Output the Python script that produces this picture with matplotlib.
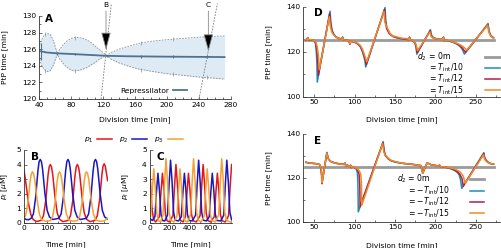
import numpy as np
import matplotlib
matplotlib.use('Agg')
import matplotlib.pyplot as plt
from matplotlib.ticker import MultipleLocator, FixedLocator
from matplotlib.lines import Line2D

plt.rcParams['font.family'] = 'DejaVu Sans'
plt.rcParams['font.size'] = 5.4
plt.rcParams['mathtext.fontset'] = 'dejavusans'

# ---------------- panel A : PtP time vs division time (repressilator)
band_x = [41, 43, 46, 50, 54, 58, 61, 63, 66, 70, 75, 80, 85, 90, 95, 100, 105, 110, 115, 120, 125,
          130, 140, 150, 165, 180, 200, 220, 240, 260, 272]
band_hi = [126.5, 127.1, 127.6, 127.9, 127.8, 127.0, 126.1, 125.5, 126.0, 126.5, 127.0, 127.3, 127.4,
           127.4, 127.3, 127.1, 126.8, 126.4, 126.0, 125.6, 125.25,
           125.6, 126.0, 126.3, 126.7, 126.95, 127.15, 127.3, 127.45, 127.55, 127.6]
band_lo = [124.8, 124.1, 123.6, 123.3, 123.4, 124.1, 124.9, 125.4, 124.8, 124.3, 123.8, 123.5, 123.4,
           123.45, 123.6, 123.8, 124.1, 124.4, 124.75, 125.05, 125.2,
           124.8, 124.35, 124.0, 123.6, 123.35, 123.05, 122.85, 122.65, 122.5, 122.4]
mean_x = [42, 50, 63, 85, 105, 125, 150, 200, 250, 272]
mean_y = [125.75, 125.6, 125.5, 125.4, 125.3, 125.2, 125.15, 125.1, 125.07, 125.05]
pts_x = [42, 63, 85, 125, 167, 208, 250]
pts_y = [125.72, 125.5, 125.4, 125.2, 125.13, 125.1, 125.07]
pts_err = [1.0, 0.15, 0.15, 0.15, 0.15, 0.15, 0.15]
edge_x = [48, 85, 167, 208, 250]
edge_hi = [127.8, 127.4, 126.75, 127.2, 127.5]
edge_lo = [123.35, 123.4, 123.55, 123.05, 122.6]
arrow_x = [123.75, 251.7]
arrow_tip = [125.9, 125.7]
arrow_lab = ['B', 'C']
guide_B = ([117.5, 130.4], [120, 131.5])
guide_C = ([240, 263], [120, 131.5])

# ---------------- panels B and C : protein concentrations
b_red = [(0, 3.6), (5, 3.1), (10, 2.5), (15, 1.9), (20, 1.3), (30, 0.55), (40, 0.22), (55, 0.08),
         (75, 0.16), (85, 0.48), (95, 1.52), (100, 2.4), (105, 3.28), (110, 3.84), (115, 4.0),
         (120, 3.84), (125, 3.36), (130, 2.6), (135, 1.8), (145, 0.68), (155, 0.24), (170, 0.07),
         (193, 0.16), (203, 0.48), (213, 1.52), (218, 2.4), (223, 3.28), (228, 3.84), (233, 4.0),
         (238, 3.84), (243, 3.36), (248, 2.6), (253, 1.8), (263, 0.68), (273, 0.24), (288, 0.07),
         (310, 0.16), (320, 0.48), (330, 1.55), (335, 2.4), (340, 3.3), (345, 3.88), (350, 4.05),
         (355, 3.88), (360, 3.4), (365, 2.9)]
b_blue = [(0, 0.3), (10, 0.22), (20, 0.2), (31, 0.3), (41, 0.6), (51, 1.75), (56, 2.7), (61, 3.6),
          (66, 4.2), (71, 4.35), (76, 4.2), (81, 3.7), (86, 2.9), (91, 2.05), (101, 0.85), (111, 0.4),
          (125, 0.22), (152, 0.3), (162, 0.6), (172, 1.75), (177, 2.7), (182, 3.6), (187, 4.2),
          (192, 4.35), (197, 4.2), (202, 3.7), (207, 2.9), (212, 2.05), (222, 0.85), (232, 0.4),
          (246, 0.22), (272, 0.3), (282, 0.6), (292, 1.75), (297, 2.7), (302, 3.6), (307, 4.2),
          (312, 4.35), (317, 4.2), (322, 3.7), (327, 2.9), (332, 2.05), (342, 0.85), (352, 0.4),
          (365, 0.25)]
b_orange = [(0, 0.3), (7, 0.5), (17, 1.35), (22, 2.1), (27, 2.9), (32, 3.35), (37, 3.5), (42, 3.35),
            (47, 2.95), (52, 2.3), (57, 1.6), (67, 0.6), (77, 0.2), (95, 0.1), (115, 0.14),
            (125, 0.42), (135, 1.33), (140, 2.1), (145, 2.87), (150, 3.36), (155, 3.5), (160, 3.36),
            (165, 2.95), (170, 2.3), (175, 1.6), (185, 0.6), (195, 0.2), (213, 0.1), (233, 0.14),
            (243, 0.42), (253, 1.33), (258, 2.1), (263, 2.87), (268, 3.36), (273, 3.5), (278, 3.36),
            (283, 2.95), (288, 2.3), (293, 1.6), (303, 0.6), (313, 0.2), (330, 0.1), (350, 0.12),
            (365, 0.3)]

c_red = [(0, 3.8), (8, 3.0), (15, 2.0), (25, 0.9), (40, 0.25), (60, 0.05), (97, 0.41), (112, 2.04),
         (127, 3.4), (142, 2.21), (157, 0.58), (172, 0.14), (195, 0.05), (230, 0.48), (245, 2.4),
         (260, 4.0), (275, 2.6), (290, 0.68), (305, 0.16), (330, 0.05), (353, 0.41), (368, 2.04),
         (383, 3.4), (398, 2.21), (413, 0.58), (428, 0.14), (460, 0.05), (497, 0.48), (512, 2.4),
         (527, 4.0), (542, 2.6), (557, 0.68), (572, 0.16), (600, 0.05), (637, 0.41), (652, 2.04),
         (667, 3.4), (682, 2.21), (697, 0.58), (712, 0.14), (745, 0.05), (777, 0.48), (792, 2.4),
         (807, 4.0)]
c_blue = [(0, 0.3), (30, 0.15), (53, 0.41), (68, 2.04), (83, 3.4), (98, 2.21), (113, 0.58),
          (128, 0.15), (150, 0.12), (177, 0.52), (192, 2.58), (207, 4.3), (222, 2.8), (237, 0.73),
          (252, 0.17), (285, 0.12), (313, 0.41), (328, 2.04), (343, 3.4), (358, 2.21), (373, 0.58),
          (388, 0.15), (420, 0.12), (453, 0.52), (468, 2.58), (483, 4.3), (498, 2.8), (513, 0.73),
          (528, 0.17), (560, 0.12), (587, 0.41), (602, 2.04), (617, 3.4), (632, 2.21), (647, 0.58),
          (662, 0.15), (700, 0.12), (730, 0.52), (745, 2.58), (760, 4.3), (775, 2.8), (790, 0.73),
          (807, 0.2)]
c_orange = [(0, 0.35), (12, 0.45), (27, 2.2), (42, 3.7), (57, 2.4), (72, 0.63), (87, 0.15),
            (110, 0.05), (132, 0.53), (147, 2.64), (162, 4.4), (177, 2.86), (192, 0.75), (207, 0.18),
            (240, 0.05), (270, 0.45), (285, 2.2), (300, 3.7), (315, 2.4), (330, 0.63), (345, 0.15),
            (375, 0.05), (403, 0.53), (418, 2.64), (433, 4.4), (448, 2.86), (463, 0.75), (478, 0.18),
            (510, 0.05), (537, 0.45), (552, 2.2), (567, 3.7), (582, 2.4), (597, 0.63), (612, 0.15),
            (645, 0.05), (680, 0.53), (695, 2.64), (710, 4.4), (725, 2.86), (740, 0.75), (755, 0.18),
            (790, 0.05), (807, 0.05)]
c_ticks = [0, 200, 400, 600]

# ---------------- panels D and E : PtP time for different d2
d_zero = [(39, 125.1), (272, 125.1)]
d_teal = [(39, 125.3), (41, 125.5), (42, 126.3), (43, 125.2), (46, 125.3), (50, 124.9), (51.5, 123.5),
          (52.5, 120), (53.2, 115), (53.7, 106.5), (69.5, 138.0), (70.5, 133), (72, 129.5),
          (74, 127.8), (77, 126.6), (80, 126.0), (84, 125.7), (85, 126.5), (86, 125.4), (90, 125.2),
          (93, 124.8), (94, 123.3), (95, 124.6), (100, 124.2), (104, 123.4), (107, 122.2),
          (109, 120.5), (111, 118.3), (112.7, 116), (113.7, 113.2), (137.6, 139.6), (138.5, 134),
          (140, 130.5), (143, 128.2), (147, 127), (152, 126.3), (158, 125.8), (164, 125.6),
          (167, 125.4), (168, 126.5), (169, 125.3), (172, 124.9), (174.5, 124), (176, 122),
          (177, 118.9), (193.8, 129.8), (195, 127.5), (197, 126.4), (200, 125.9), (205, 125.6),
          (209, 125.5), (210, 126.5), (211, 124.8), (213, 125.1), (218, 124.6), (223, 124),
          (227, 123.3), (230, 122.5), (232.5, 121.5), (234.5, 120.2), (235.9, 118.9),
          (265.2, 132.5), (266.3, 129.5), (267.5, 128), (269, 127), (272, 126.2)]
d_crimson = [(39, 125.3), (41, 125.5), (42, 126.2), (43, 125.2), (46, 125.3), (50, 125), (52, 123.8),
             (53.5, 120), (54.5, 114), (55, 109.5), (69, 137.0), (70.2, 132.5), (71.8, 129.3),
             (74, 127.7), (77, 126.5), (80, 125.9), (84, 125.6), (85, 126.4), (86, 125.3), (90, 125.1),
             (93, 124.8), (94, 123.4), (95, 124.6), (100, 124.3), (104, 123.5), (107, 122.4),
             (109.5, 120.7), (111.5, 118.6), (113.3, 116.3), (114.3, 114.3), (137, 138.8),
             (138, 133.5), (139.7, 130.2), (143, 128), (147, 126.8), (152, 126.2), (158, 125.8),
             (164, 125.5), (167, 125.4), (168, 126.4), (169, 125.3), (172, 124.9), (174.8, 124),
             (176.3, 122), (177.3, 119.6), (193.6, 129.3), (194.8, 127.2), (197, 126.2), (200, 125.8),
             (205, 125.5), (209, 125.5), (210, 126.4), (211, 124.9), (213, 125.1), (218, 124.7),
             (223, 124.1), (227, 123.5), (230, 122.8), (233, 121.8), (235.5, 120.6), (237.3, 119.8),
             (265, 132.1), (266.2, 129.3), (267.5, 127.8), (269, 126.9), (272, 126.1)]
d_orange = [(39, 125.4), (41, 125.5), (42, 126.2), (43, 125.3), (46, 125.4), (50, 125), (52, 124.3),
            (53.5, 122.5), (55, 118.5), (56.2, 112), (68.6, 135.5), (69.8, 131.5), (71.5, 128.8),
            (73.6, 127.6), (77.8, 126.3), (80, 125.9), (84, 125.5), (85, 126.3), (86, 125.3),
            (90, 125.1), (93, 124.9), (94, 123.6), (95, 124.7), (100, 124.4), (104, 123.7),
            (107, 122.8), (109.5, 121.2), (111.5, 119.3), (113.5, 117.2), (114.9, 115.5),
            (136.4, 137.8), (137.5, 133), (139.7, 131.1), (143.8, 128.1), (147, 127), (152.1, 126.6),
            (158, 126), (164.5, 125.8), (167, 125.5), (168, 126.3), (169, 125.3), (172, 125),
            (175, 124.2), (176.6, 122.5), (177.8, 120.5), (193.4, 128.8), (194.6, 126.8), (197, 126.1),
            (200, 125.8), (205, 125.5), (209, 125.5), (210, 126.3), (211, 124.9), (213, 125.2),
            (218, 124.8), (223, 124.2), (227, 123.7), (231, 123), (234, 122.3), (236.8, 121.5),
            (238.8, 120.7), (264.8, 131.8), (266, 129), (267.5, 127.6), (269, 126.8), (272, 126)]

e_zero = [(39, 125.1), (272, 125.1)]
e_teal = [(39.7, 127.2), (42, 126.9), (45, 126.8), (50, 126.6), (55, 126.4), (57, 125.9), (58.2, 124.5),
          (59, 121), (59.3, 117.3), (65.6, 131.6), (67.3, 128.8), (70, 127.6), (74, 127), (80, 126.5),
          (86, 126.2), (88, 126.8), (89, 125.4), (91, 125.9), (93, 125.2), (95, 125.8), (96, 124.6),
          (98, 125.2), (100, 124.6), (102, 124), (103.3, 122.5), (104, 118), (104.5, 104.5),
          (135.3, 136.5), (136.5, 132.5), (138, 130.3), (141.7, 128.6), (145, 127.8), (150, 127.2),
          (155, 126.9), (160, 126.6), (165, 126.4), (170, 126.2), (175, 126), (179, 125.7),
          (182, 125.6), (184.3, 122.2), (186, 123.6), (189.5, 126.7), (192, 126.5), (195, 125.9),
          (200, 125.7), (203, 125.3), (205, 125.8), (207, 124.9), (210, 125), (215, 124.6),
          (220, 124), (224, 123.3), (227, 122.5), (229.5, 121.3), (231.2, 119), (232.6, 115.2),
          (260, 131.5), (261, 129.3), (262.5, 128.2), (265, 127.2), (268, 126.6), (272, 126.3)]
e_crimson = [(39.7, 127.1), (42, 126.8), (45, 126.7), (50, 126.5), (55, 126.3), (57, 125.9),
             (58.4, 124.5), (59.2, 121), (59.5, 117.5), (65.5, 131.3), (67.4, 128.7), (70, 127.5),
             (74, 126.9), (80, 126.4), (86, 126.1), (88, 126.7), (89, 125.4), (91, 125.8), (93, 125.2),
             (95, 125.7), (96, 124.7), (98, 125.1), (100, 124.6), (102, 124.2), (104, 123.3),
             (105.5, 121.5), (106.3, 117), (106.7, 106.8), (135, 136), (136.4, 132.3), (138, 130.2),
             (141.7, 128.7), (145, 127.9), (150, 127.3), (155, 126.9), (160, 126.6), (165, 126.4),
             (170, 126.2), (175, 126), (179, 125.7), (182, 125.6), (184.3, 122.1), (186, 123.6),
             (189.5, 126.7), (192, 126.5), (195, 125.9), (200, 125.7), (203, 125.3), (205, 125.8),
             (207, 124.9), (210, 125), (215, 124.7), (220, 124.2), (224, 123.6), (227.5, 122.8),
             (230.5, 121.5), (233, 119.6), (234.5, 116.2), (259.8, 131), (261, 129), (262.5, 128),
             (265, 127.1), (268, 126.5), (272, 126.2)]
e_orange = [(39.7, 127.0), (42, 126.8), (45, 126.7), (50, 126.5), (55, 126.3), (57, 125.9),
            (58.5, 124.5), (59.3, 121), (59.6, 117.7), (65.4, 131.2), (67.5, 128.6), (70, 127.5),
            (74, 126.9), (80, 126.4), (86, 126.1), (88, 126.7), (89, 125.4), (91, 125.8), (93, 125.2),
            (95, 125.7), (96, 124.8), (98, 125.1), (100, 124.7), (102, 124.4), (104, 123.9),
            (106, 123), (107.5, 121.5), (108.4, 117.5), (108.8, 107.5), (134.6, 135.6), (136, 132),
            (137.6, 130.5), (141.7, 128.9), (145, 128), (150, 127.4), (155, 127), (160, 126.6),
            (165, 126.4), (170, 126.2), (175, 126), (179, 125.7), (182, 125.6), (184.3, 122),
            (186, 123.6), (189.5, 126.7), (192, 126.5), (195, 125.9), (200, 125.7), (203, 125.3),
            (205, 125.8), (207, 124.9), (210, 125.1), (215, 124.8), (220, 124.4), (224, 124),
            (228, 123.3), (231.5, 122.3), (234.5, 120.8), (236.8, 117.5), (259.5, 130.5), (261, 128.5),
            (262.5, 127.7), (265, 126.9), (268, 126.5), (272, 126.3)]

legend_D = ['= $T_{\\rm int}$/10', '= $T_{\\rm int}$/12', '= $T_{\\rm int}$/15']
legend_E = ['= \u2212$T_{\\rm int}$/10', '= \u2212$T_{\\rm int}$/12', '= \u2212$T_{\\rm int}$/15']

RED, BLUE, ORANGE = '#e3161c', '#1717c4', '#f5a031'
GRAY, TEAL, CRIMSON, ORG2 = '#9b9b9b', '#1f8db0', '#b31a4e', '#f08a24'
FS = 5.4
FLEG = 5.6
FL = 7.5

W, H = 501, 248
fig = plt.figure(figsize=(W / 100, H / 100), dpi=100)


def box(l, t, r, b):
    return fig.add_axes([l / W, 1 - b / H, (r - l) / W, (b - t) / H])


def style(ax):
    for s in ['top', 'right']:
        ax.spines[s].set_visible(False)
    for s in ['left', 'bottom']:
        ax.spines[s].set_linewidth(0.6)
        ax.spines[s].set_color('#333333')
    ax.tick_params(which='major', direction='in', length=2.5, width=0.5, labelsize=FS, pad=2,
                   color='#333333')
    ax.tick_params(which='minor', direction='in', length=1.5, width=0.5, color='#333333')


def xy(pts):
    a = np.array(pts, dtype=float)
    return a[:, 0], a[:, 1]


# ---- A
axA = box(39, 16, 231, 99)
style(axA)
axA.fill_between(band_x, band_lo, band_hi, color='#deebf5', lw=0)
axA.plot(band_x, band_hi, color='#858f97', lw=0.6, ls=(0, (2, 1.5)))
axA.plot(band_x, band_lo, color='#858f97', lw=0.6, ls=(0, (2, 1.5)))
axA.plot(edge_x, edge_hi, ls='none', marker='|', ms=3, mew=0.5, color='#858f97')
axA.plot(edge_x, edge_lo, ls='none', marker='|', ms=3, mew=0.5, color='#858f97')
ln, = axA.plot(mean_x, mean_y, color='#4e7390', lw=1.3)
axA.errorbar(pts_x, pts_y, yerr=pts_err, fmt='none', ecolor='#4e7390', elinewidth=0.8, capsize=0)
for gx, gy in [guide_B, guide_C]:
    axA.plot(gx, gy, color='#7a7a7a', lw=0.6, ls=(0, (2, 1.5)), clip_on=False)
for xa, yt, lab in zip(arrow_x, arrow_tip, arrow_lab):
    axA.annotate('', xy=(xa, yt), xytext=(xa, 130.6),
                 arrowprops=dict(arrowstyle='-|>,head_length=1.1,head_width=0.3', mutation_scale=10,
                                 fc='black', ec='#8a8a8a', lw=0.6, shrinkA=0, shrinkB=0))
    axA.text(xa, 131.35, lab, ha='center', va='center', fontsize=FS)
axA.set_xlim(40, 280)
axA.set_ylim(120, 130)
axA.xaxis.set_major_locator(MultipleLocator(40))
axA.xaxis.set_minor_locator(MultipleLocator(10))
axA.yaxis.set_major_locator(MultipleLocator(2))
axA.yaxis.set_minor_locator(MultipleLocator(1))
axA.set_xlabel('Division time [min]', fontsize=FS)
axA.set_ylabel('PtP time [min]', fontsize=FS)
axA.xaxis.set_label_coords(0.5, -0.21)
axA.yaxis.set_label_coords(-0.16, 0.5)
axA.text(0.03, 0.96, 'A', transform=axA.transAxes, fontsize=FL, fontweight='bold', va='center')
axA.legend([ln], ['Repressilator'], loc='center right', bbox_to_anchor=(0.79, 0.1), frameon=False,
           markerfirst=False, handlelength=1.8, fontsize=FS, borderpad=0, handletextpad=0.6)

# ---- B and C
handles = []
for ax, curves, xmax, ticks, label, lx, ylx in [
        (box(24, 150, 107.6, 222.7), (b_red, b_blue, b_orange), 365, [0, 100, 200, 300], 'B', 0.084, -0.17),
        (box(149.5, 150, 231.9, 222.7), (c_red, c_blue, c_orange), 810, c_ticks, 'C', 0.087, -0.22)]:
    style(ax)
    handles = []
    for pts, col in zip(curves, (RED, BLUE, ORANGE)):
        x, y = xy(pts)
        h, = ax.plot(x, y, color=col, lw=1.1)
        handles.append(h)
    ax.set_xlim(0, xmax)
    ax.set_ylim(0, 5)
    ax.xaxis.set_major_locator(FixedLocator(ticks))
    ax.xaxis.set_minor_locator(MultipleLocator((ticks[1] - ticks[0]) / 2))
    ax.yaxis.set_major_locator(MultipleLocator(1))
    ax.set_xlabel('Time [min]', fontsize=FS)
    ax.set_ylabel('$p_i$ [$\\mu$M]', fontsize=FS)
    ax.xaxis.set_label_coords(0.5, -0.26)
    ax.yaxis.set_label_coords(ylx, 0.5)
    ax.text(lx, 0.9, label, transform=ax.transAxes, fontsize=FL, fontweight='bold', va='center')
fig.legend(handles, ['$p_1$', '$p_2$', '$p_3$'], ncol=3, loc='center', bbox_to_anchor=(0.266, 0.435),
           frameon=False, markerfirst=False, handlelength=2.0, columnspacing=0.9, handletextpad=0.5,
           fontsize=FS)

# ---- D and E
for (t, b), series, labels, eq_x, rows, smp, letter in [
        ((6.7, 96.7), (d_zero, d_teal, d_crimson, d_orange), legend_D, 0.64,
         [0.445, 0.32, 0.195, 0.07], (0.924, 1.0), 'D'),
        ((134, 221.7), (e_zero, e_teal, e_crimson, e_orange), legend_E, 0.535,
         [0.49, 0.355, 0.225, 0.095], (0.848, 0.919), 'E')]:
    ax = box(303, t, 500, b)
    style(ax)
    cols = (GRAY, TEAL, CRIMSON, ORG2)
    for i, (pts, col) in enumerate(zip(series, cols)):
        x, y = xy(pts)
        ax.plot(x, y, color=col, lw=2.0 if i == 0 else 1.1, zorder=2 + i)
    ax.set_xlim(36, 280)
    ax.set_ylim(100, 140)
    ax.xaxis.set_major_locator(MultipleLocator(50))
    ax.xaxis.set_minor_locator(MultipleLocator(25))
    ax.yaxis.set_major_locator(MultipleLocator(20))
    ax.yaxis.set_minor_locator(MultipleLocator(10))
    ax.set_xlabel('Division time [min]', fontsize=FS)
    ax.set_ylabel('PtP time [min]', fontsize=FS)
    ax.xaxis.set_label_coords(0.5, -0.22 if letter == 'D' else -0.24)
    ax.yaxis.set_label_coords(-0.155, 0.5)
    ax.text(0.054, 0.925, letter, transform=ax.transAxes, fontsize=FL, fontweight='bold', va='center')
    # legend, written like an aligned equation
    ax.text(eq_x - 0.01, rows[0], '$d_2$', transform=ax.transAxes, ha='right', va='center', fontsize=FLEG)
    ax.text(eq_x, rows[0], '= 0m', transform=ax.transAxes, ha='left', va='center', fontsize=FLEG)
    for r, lab in zip(rows[1:], labels):
        ax.text(eq_x, r, lab, transform=ax.transAxes, ha='left', va='center', fontsize=FLEG)
    for i, (r, col) in enumerate(zip(rows, cols)):
        ax.add_line(Line2D(smp, [r, r], transform=ax.transAxes, color=col,
                           lw=2.0 if i == 0 else 1.1, clip_on=False))

fig.savefig('out.png', dpi=100)
